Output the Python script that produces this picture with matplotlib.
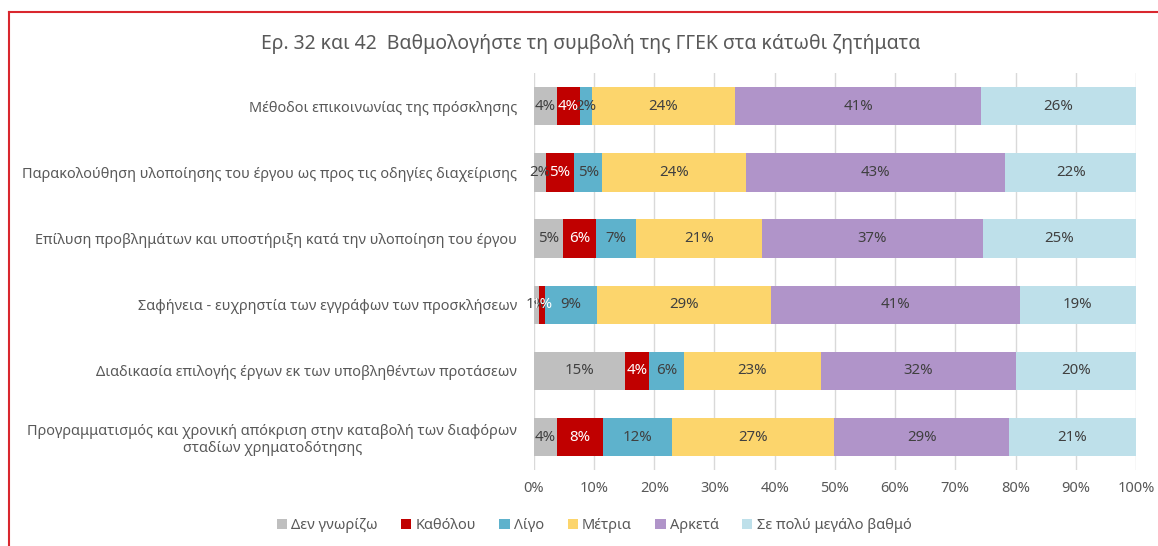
import numpy as np
import matplotlib.pyplot as plt
from matplotlib.lines import Line2D

plt.rcParams['font.family'] = ['Noto Sans', 'DejaVu Sans']

categories = [
    "Μέθοδοι επικοινωνίας της πρόσκλησης",
    "Παρακολούθηση υλοποίησης του έργου ως προς τις οδηγίες διαχείρισης",
    "Επίλυση προβλημάτων και υποστήριξη κατά την υλοποίηση του έργου",
    "Σαφήνεια - ευχρηστία των εγγράφων των προσκλήσεων",
    "Διαδικασία επιλογής έργων εκ των υποβληθέντων προτάσεων",
    "Προγραμματισμός και χρονική απόκριση στην καταβολή των διαφόρων\nσταδίων χρηματοδότησης",
]
series_names = ["Δεν γνωρίζω", "Καθόλου", "Λίγο", "Μέτρια", "Αρκετά", "Σε πολύ μεγάλο βαθμό"]

den_gnorizo = [3.8, 2.0, 4.8, 0.9, 15.1, 3.9]
katholou = [3.8, 4.7, 5.6, 1.0, 4.0, 7.6]
ligo = [2.0, 4.7, 6.6, 8.6, 5.8, 11.5]
metria = [23.8, 23.8, 20.9, 28.9, 22.8, 26.9]
arketa = [40.9, 43.1, 36.7, 41.3, 32.4, 29.0]
poly = [25.7, 21.7, 25.4, 19.3, 19.9, 21.1]

colors = ["#BFBFBF", "#C00000", "#5EB2CC", "#FCD56C", "#B094C9", "#BEE0EA"]
text_colors = ["#404040", "white", "#404040", "#404040", "#404040", "#404040"]

fig = plt.figure(figsize=(11.58, 5.46), dpi=100)
ax = fig.add_axes([0.461, 0.139, 0.52, 0.727])

y = np.arange(len(categories))
left = np.zeros(len(categories))
all_series = [den_gnorizo, katholou, ligo, metria, arketa, poly]
for vals, name, c, tc in zip(all_series, series_names, colors, text_colors):
    vals = np.array(vals)
    ax.barh(y, vals, left=left, height=0.58, color=c, label=name, zorder=3)
    for yi, (l, v) in enumerate(zip(left, vals)):
        ax.text(l + v / 2, yi, "%d%%" % round(v), ha="center", va="center",
                fontsize=10.8, color=tc, zorder=4)
    left += vals

ax.set_xlim(0, 100)
ax.set_ylim(len(categories) - 0.5, -0.5)
ax.set_xticks(range(0, 101, 10))
ax.set_xticklabels(["%d%%" % t for t in range(0, 101, 10)], fontsize=10.5, color="#595959")
ax.set_yticks(y)
ax.set_yticklabels(categories, fontsize=10.45, color="#595959", multialignment="center")
ax.tick_params(axis="both", length=0, pad=8)
ax.tick_params(axis="y", pad=12)
ax.grid(axis="x", color="#D9D9D9", linewidth=1, zorder=0)
for s in ax.spines.values():
    s.set_visible(False)

fig.text(0.51, 0.92, "Ερ. 32 και 42  Βαθμολογήστε τη συμβολή της ΓΓΕΚ στα κάτωθι ζητήματα",
         ha="center", va="center", fontsize=14, color="#595959")

fig.legend(loc="center", bbox_to_anchor=(0.513, 0.038), ncol=6, frameon=False,
           fontsize=10.5, handlelength=0.7, handleheight=0.7, handletextpad=0.3,
           columnspacing=1.6, labelcolor="#595959")

# red frame on top and left
fig.add_artist(Line2D([0.008, 1.0], [0.978, 0.978], color="#D9272E", linewidth=1.5))
fig.add_artist(Line2D([0.008, 0.008], [0.0, 0.978], color="#D9272E", linewidth=1.5))

fig.savefig("out.png", dpi=100)
